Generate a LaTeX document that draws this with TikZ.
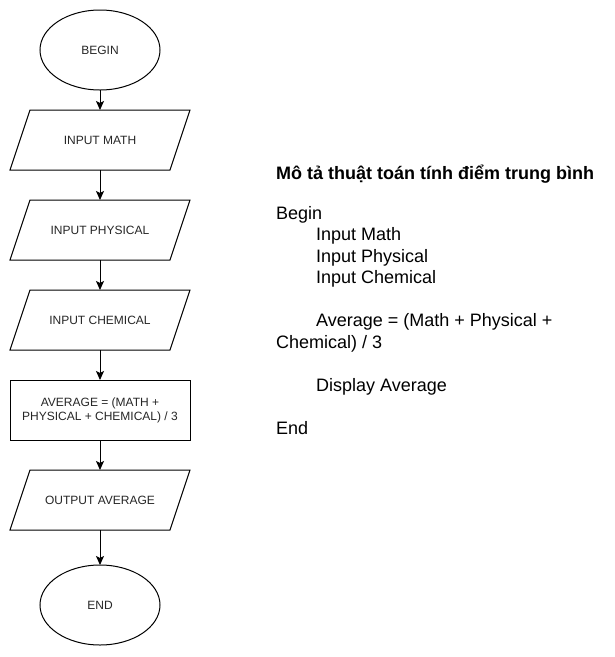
\documentclass[tikz,border=0pt]{standalone}
\usepackage{fontspec}
\setmainfont{Liberation Sans}
\usetikzlibrary{positioning,arrows.meta,shapes.geometric,calc}

\begin{document}
\begin{tikzpicture}[
    x=1pt, y=-1pt,
    font=\fontsize{12}{14}\selectfont,
    term/.style={ellipse, draw, line width=1pt, minimum width=120pt, minimum height=80pt, inner sep=0pt, outer sep=0pt, align=center, text=black!85},
    io/.style={rectangle, minimum width=180pt, minimum height=60pt, inner sep=0pt, outer sep=0pt, align=center, text=black!85,
        append after command={\pgfextra{\draw[line width=1pt, line join=miter]
            ($(\tikzlastnode.north west)+(20,0)$) -- (\tikzlastnode.north east)
            -- ($(\tikzlastnode.south east)+(-20,0)$) -- (\tikzlastnode.south west) -- cycle;}}},
    proc/.style={rectangle, draw, line width=1pt, minimum width=180pt, minimum height=60pt, inner sep=0pt, outer sep=0pt, align=center, text=black!85},
    head/.style={font=\fontsize{18}{21.5}\selectfont\bfseries, text=black, inner sep=0pt},
    desc/.style={font=\fontsize{18}{21.5}\selectfont, text=black, align=left, inner sep=0pt},
    arr/.style={-{Stealth[length=9pt, width=8pt, inset=2pt]}, line width=1pt},
    node distance=20pt
]
\useasboundingbox (0,0) rectangle (615,657);
\fill[white] (0,0) rectangle (615,657);

% ============================================================
% FLOWCHART
% ============================================================
\node[term] (begin) at (100,50) {BEGIN};
\node[io,   below=20pt of begin]   (math)  {INPUT MATH};
\node[io,   below=30pt of math]    (phys)  {INPUT PHYSICAL};
\node[io,   below=30pt of phys]    (chem)  {INPUT CHEMICAL};
\node[proc, below=30pt of chem]    (avg)   {AVERAGE = (MATH +\\PHYSICAL + CHEMICAL) / 3};
\node[io,   below=30pt of avg]     (out)   {OUTPUT AVERAGE};
\node[term, below=35pt of out]     (end)   {END};

\draw[arr] (begin) -- (math);
\draw[arr] (math)  -- (phys);
\draw[arr] (phys)  -- (chem);
\draw[arr] (chem)  -- (avg);
\draw[arr] (avg)   -- (out);
\draw[arr] (out)   -- (end);

% ============================================================
% DESCRIPTION
% ============================================================
\node[head, anchor=base west] (title) at (276,179.5) {Mô tả thuật toán tính điểm trung bình};
\node[desc, anchor=north west] (steps) at (276,206) {Begin\\
\hspace*{40pt}Input Math\\
\hspace*{40pt}Input Physical\\
\hspace*{40pt}Input Chemical\\[21.5pt]
\hspace*{40pt}Average = (Math + Physical +\\
Chemical) / 3\\[21.5pt]
\hspace*{40pt}Display Average\\[21.5pt]
End};

\end{tikzpicture}
\end{document}
